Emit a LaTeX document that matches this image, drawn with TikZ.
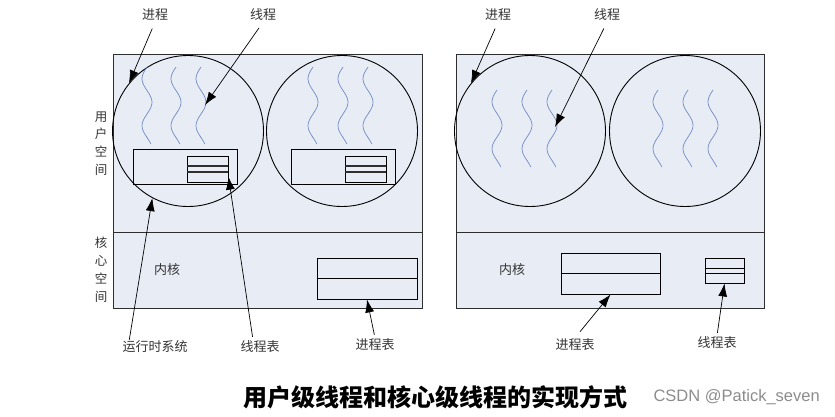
\documentclass[tikz,border=0pt]{standalone}
\usepackage{fontspec}
\newfontfamily\cjk{Noto Sans CJK SC}
\setsansfont{Liberation Sans}
\usetikzlibrary{arrows.meta,calc}
\definecolor{panelfill}{HTML}{E8ECF5}
\definecolor{threadblue}{HTML}{6F8BC6}
\definecolor{edgegray}{HTML}{2E2E2E}
\definecolor{textgray}{HTML}{333333}

\begin{document}
\begin{tikzpicture}[
  x=1pt, y=-1pt,
  font=\cjk\fontsize{13}{18}\selectfont,
  panel/.style={draw=edgegray, fill=panelfill, line width=1pt, inner sep=0pt},
  proc/.style={draw=black, circle, line width=0.9pt, minimum size=151pt, inner sep=0pt},
  runbox/.style={draw=black, line width=0.9pt, minimum width=104pt, minimum height=35pt, inner sep=0pt},
  table/.style={draw=black, line width=0.9pt, inner sep=0pt},
  thread/.style={draw=threadblue, line width=0.7pt},
  label/.style={text=textgray, inner sep=1pt},
  pointer/.style={-{Latex[length=13pt,width=9pt]}, line width=0.7pt, draw=black}
]
\useasboundingbox (0,0) rectangle (835,416);

\node[panel, minimum width=309pt, minimum height=178pt] (uL) at (267.5,143) {};
\node[panel, minimum width=309pt, minimum height=76pt] (kL) at (267.5,270) {};
\node[panel, minimum width=308pt, minimum height=178pt] (uR) at (610,143) {};
\node[panel, minimum width=308pt, minimum height=76pt] (kR) at (610,270) {};

\node[proc] (pL1) at (188,131) {};
\node[proc] (pL2) at (342,131) {};
\node[proc] (pR1) at (530,131) {};
\node[proc] (pR2) at (685,131) {};

\node[runbox] (rtL1) at (185,166.5) {};
\node[runbox] (rtL2) at (343,166.5) {};
\node[table, minimum width=41pt, minimum height=26pt] (ttL1) at (207.5,169) {};
\node[table, minimum width=41pt, minimum height=26pt] (ttL2) at (365.5,169) {};
\node[table, minimum width=100pt, minimum height=41pt] (ptL) at (367,278.5) {};
\node[table, minimum width=99pt, minimum height=41pt] (ptR) at (610.5,273.5) {};
\node[table, minimum width=39pt, minimum height=25pt] (ttR) at (724.5,270.5) {};

\foreach \t in {ttL1,ttL2} {
  \draw[draw=edgegray, line width=1.2pt] ($(\t.west)+(0,-3)$) -- ($(\t.east)+(0,-3)$);
  \draw[draw=edgegray, line width=1.2pt] ($(\t.west)+(0,3)$) -- ($(\t.east)+(0,3)$);
}
\draw[line width=0.9pt] (ptL.west) -- (ptL.east);
\draw[line width=0.9pt] (ptR.west) -- (ptR.east);
\draw[line width=0.9pt] ($(ttR.west)+(0,-2.5)$) -- ($(ttR.east)+(0,-2.5)$);
\draw[line width=0.9pt] ($(ttR.west)+(0,2.5)$) -- ($(ttR.east)+(0,2.5)$);

\foreach \tx/\ty in {147/67,176/67,201/67,313/67,343/67,368/67,497/90,527/90,552/90,658/90,688/90,713/90}
  \draw[thread] plot[smooth, samples=30, domain=0:77] ({\tx-5*sin(\x/47*360)},{\ty+\x});

\coordinate (thL) at (205,105);
\coordinate (thR) at (555,127);

\node[label, align=center, font=\cjk\fontsize{12.5}{17.7}\selectfont] (usL) at (101,143.5) {用\\户\\空\\间};
\node[label, align=center, font=\cjk\fontsize{12.5}{18}\selectfont] (ksL) at (101,270) {核\\心\\空\\间};
\node[label] (knL) at (167,270) {内核};
\node[label] (knR) at (512,270) {内核};

\node[label] (lpL) at (155,15) {进程};
\node[label] (ltL) at (263,15) {线程};
\node[label] (lpR) at (498,15) {进程};
\node[label] (ltR) at (607,15) {线程};
\node[label] (lrt) at (155,347) {运行时系统};
\node[label] (lttL) at (260,347) {线程表};
\node[label] (lptL) at (375,345) {进程表};
\node[label] (lptR) at (575,345) {进程表};
\node[label] (lttR) at (717,343) {线程表};

\draw[pointer, shorten <=7pt] (lpL.south) -- (pL1.141);
\draw[pointer, shorten <=7pt] (ltL.south) -- (thL);
\draw[pointer, shorten <=7pt] (lpR.south) -- (pR1.141);
\draw[pointer, shorten <=7pt] (ltR.south) -- (thR);
\draw[pointer] ($(lrt.north west)+(8,0)$) -- (pL1.-118);
\draw[pointer, shorten <=3pt] ($(lttL.north)+(-7,0)$) -- (ttL1.-20);
\draw[pointer, shorten <=3pt] (lptL.north) -- (ptL.south);
\draw[pointer, shorten <=8pt] (lptR.north) -- (ptR.south);
\draw[pointer, shorten <=3pt] (lttR.north) -- (ttR.south);

\node[font=\cjk\bfseries\fontsize{24}{28}\selectfont] (cap) at (435,397) {用户级线程和核心级线程的实现方式};
\node[font=\sffamily\fontsize{16.5}{18}\selectfont, text=black!45, anchor=west] (mark) at (650,397) {CSDN @Patick\_seven};
\end{tikzpicture}
\end{document}
